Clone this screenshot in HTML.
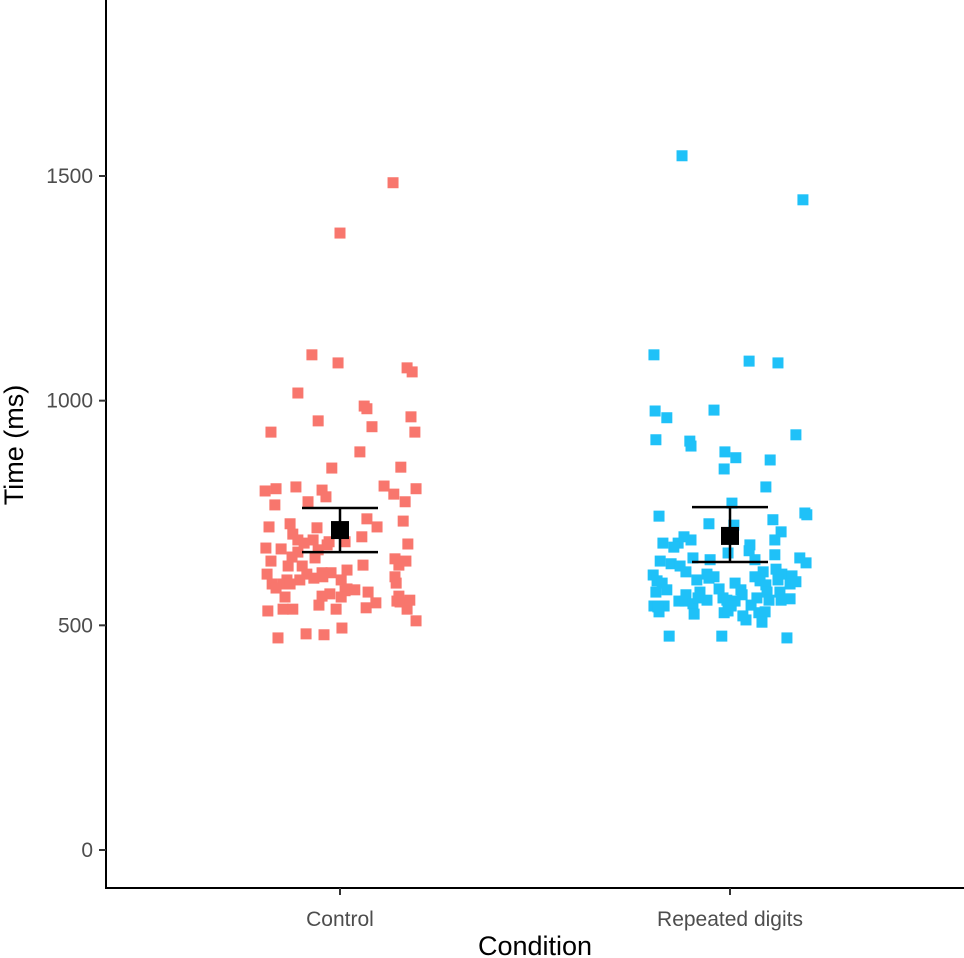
<!DOCTYPE html>
<html><head><meta charset="utf-8"><style>
html,body{margin:0;padding:0;background:#fff;}
svg{display:block;font-family:"Liberation Sans",Arial,sans-serif;}
</style></head><body>
<svg id="chart" width="964" height="958" viewBox="0 0 964 958" xmlns="http://www.w3.org/2000/svg">
<g id="axes"></g>
<g id="points"></g>
<g id="summary"></g>
</svg>
<script>
const categories = ["Control", "Repeated digits"];
const colors = ["#F8766D", "#1FC1F8"];
const yTicks = [0, 500, 1000, 1500];
const controlValues = [1485,1373,1102,1084,1017,1073,1064,988,982,955,930,964,942,930,886,850,852,810,799,804,808,801,786,792,775,804,768,775,737,719,719,726,703,717,732,706,690,690,686,686,697,681,672,670,663,683,668,679,648,652,650,643,632,632,634,643,614,601,614,617,617,623,634,608,592,592,601,605,608,601,583,592,581,594,570,577,579,565,563,565,563,574,552,532,536,536,545,536,550,539,536,554,556,510,481,479,472,494];
const controlJitter = [0.136,0,-0.072,-0.005,-0.108,0.172,0.185,0.062,0.069,-0.056,-0.177,0.182,0.082,0.192,0.051,-0.021,0.156,0.113,-0.192,-0.164,-0.113,-0.046,-0.036,0.138,0.167,0.195,-0.167,-0.082,0.069,0.095,-0.182,-0.128,-0.121,-0.059,0.162,-0.003,-0.108,-0.069,-0.028,0.013,0.056,0.174,-0.19,-0.151,-0.108,-0.092,-0.056,-0.033,0.141,-0.123,-0.064,-0.177,-0.133,-0.097,0.151,0.169,-0.187,-0.136,-0.085,-0.046,-0.023,0.018,0.059,0.141,-0.174,-0.146,-0.103,-0.067,-0.044,0.003,-0.164,-0.128,0.018,0.144,-0.026,0.013,0.038,0.151,-0.141,-0.046,0.003,0.072,0.154,-0.185,-0.146,-0.121,-0.054,-0.01,0.092,0.067,0.172,0.146,0.179,0.195,-0.087,-0.041,-0.159,0.005];
const repeatedValues = [1545,1447,1102,1088,1084,977,962,979,910,913,924,899,886,873,848,868,808,772,743,750,746,735,723,726,708,690,697,690,683,683,674,679,666,650,646,650,661,657,639,643,637,632,646,612,625,619,614,608,605,619,614,610,599,594,601,608,601,599,592,597,579,581,594,579,590,574,574,574,568,574,568,561,559,543,543,554,561,556,554,545,554,548,556,543,556,556,530,525,528,528,512,541,476,476,472,530,561,532,507,521];
const repeatedJitter = [-0.123,0.187,-0.195,0.049,0.123,-0.192,-0.162,-0.041,-0.103,-0.19,0.169,-0.1,-0.013,0.015,-0.015,0.103,0.092,0.005,-0.182,0.192,0.197,0.11,0.01,-0.054,0.131,0.115,-0.118,-0.1,-0.172,-0.133,-0.144,0.051,0.049,-0.095,-0.051,0.179,-0.005,0.115,0.195,-0.179,-0.151,-0.128,0.064,-0.197,0.118,-0.113,-0.059,-0.041,-0.054,0.085,0.133,0.159,-0.187,-0.174,-0.085,0.064,0.123,0.077,0.154,0.169,-0.162,-0.028,0.013,0.028,0.092,0.095,0.128,-0.19,-0.113,-0.077,0.031,0.069,0.154,-0.195,-0.169,-0.131,-0.018,-0.008,0.013,0.054,-0.115,-0.095,-0.059,0.003,0.1,0.131,-0.182,-0.092,-0.015,0.074,0.041,-0.185,-0.156,-0.021,0.146,0.09,-0.082,-0.005,0.082,0.033];
const means = [712, 699];
const upper = [761, 763];
const lower = [663, 641];

const NS = "http://www.w3.org/2000/svg";
function y(v){ return 850 - v * 0.44934; }
function x(i, j){ return 340 + (i + (j || 0)) * 390; }
function mk(tag, attrs, parent){
  const e = document.createElementNS(NS, tag);
  for (const k in attrs) e.setAttribute(k, attrs[k]);
  parent.appendChild(e); return e;
}
const axes = document.getElementById("axes");
const pts = document.getElementById("points");
const sum = document.getElementById("summary");

let l = mk("line",{x1:106,y1:0,x2:106,y2:889,stroke:"#000","stroke-width":2},axes);


l = mk("line",{x1:105,y1:888,x2:964,y2:888,stroke:"#000","stroke-width":2},axes);



yTicks.forEach(t => {
  const tk = mk("line",{x1:99,y1:y(t),x2:106,y2:y(t),stroke:"#333","stroke-width":2},axes);
  
  
  const tx = mk("text",{x:93,y:y(t)+7,"text-anchor":"end","font-size":21,fill:"#4d4d4d"},axes);
  tx.textContent = t;
  
  
});
categories.forEach((c,i) => {
  const tk = mk("line",{x1:x(i),y1:888,x2:x(i),y2:895,stroke:"#333","stroke-width":2},axes);
  
  
  const tx = mk("text",{x:x(i),y:926,"text-anchor":"middle","font-size":21,fill:"#4d4d4d"},axes);
  tx.textContent = c;
  
  
});
let t = mk("text",{x:535,y:955,"text-anchor":"middle","font-size":27,fill:"#000"},axes);
t.textContent = "Condition";


t = mk("text",{x:0,y:0,"text-anchor":"middle","font-size":27,fill:"#000",transform:"translate(23,445) rotate(-90)"},axes);
t.textContent = "Time (ms)";



const series = [[controlValues, controlJitter],[repeatedValues, repeatedJitter]];
series.forEach((s,i) => {
  s[0].forEach((v,k) => {
    const r = mk("rect",{x:x(i,s[1][k])-5.5,y:y(v)-5.5,width:11,height:11,fill:colors[i]},pts);
    
    
  });
});
categories.forEach((c,i) => {
  const cx = x(i);
  const eb = mk("path",{d:`M${cx-38},${y(upper[i])}H${cx+38}M${cx},${y(upper[i])}V${y(lower[i])}M${cx-38},${y(lower[i])}H${cx+38}`,stroke:"#000","stroke-width":2.5,fill:"none"},sum);
  
  
  const m = mk("rect",{x:cx-9,y:y(means[i])-9,width:18,height:18,fill:"#000"},sum);
  
  
});
</script>
</body></html>
